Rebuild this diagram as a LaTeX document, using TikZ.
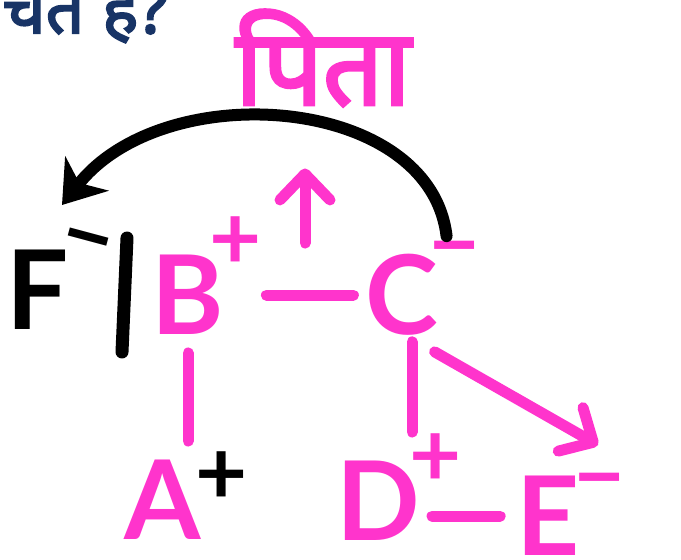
\documentclass[tikz,border=0pt]{standalone}
\usepackage{fontspec}
\setmainfont{Lato}
\newfontfamily\devfont[Script=Devanagari,AutoFakeBold=3]{Noto Sans}
\usetikzlibrary{arrows.meta}
\definecolor{pinkpen}{RGB}{255,52,204}
\definecolor{navy}{RGB}{24,52,102}

\begin{document}
\begin{tikzpicture}[x=1pt,y=-1pt,>={Stealth[length=40pt,width=55pt,inset=12pt]},
  atom/.style={inner sep=0pt,text=pinkpen,font=\fontsize{110}{110}\selectfont\bfseries},
  chg/.style={inner sep=0pt,text=pinkpen,font=\fontsize{90}{90}\selectfont\bfseries},
  bond/.style={draw=pinkpen,line width=11pt,line cap=round},
  pinkarrow/.style={bond,-{Straight Barb[length=26pt,width=50pt,round]}},
  blackarrow/.style={draw=black,line width=12pt,line cap=round,->}]
  \useasboundingbox (0,0) rectangle (681,560);
  % cut-off question at the top
  \begin{scope}
    \clip (0,0) rectangle (681,560);
    \node[font={\devfont\fontsize{68}{68}\selectfont\bfseries},text=navy,inner sep=0pt,anchor=base east] (head) at (168,33) {उचित है?};
  \end{scope}
  \node[font={\devfont\fontsize{106}{106}\selectfont\bfseries},text=pinkpen,inner sep=0pt] (pita) at (323,58) {पिता};
  % ions
  \node[atom,text=black] (F) at (38,290) {F};
  \node[chg,text=black,rotate=-15] (fq) at (85,250) {−};
  \node[atom] (B) at (188,295) {B};
  \node[chg] (bq) at (236,243) {+};
  \node[atom] (C) at (402,295) {C};
  \node[chg] (cq) at (455,258) {−};
  \node[atom] (A) at (163,500) {A};
  \node[chg,text=black] (aq) at (222,478) {+};
  \node[atom] (D) at (378,501) {D};
  \node[chg] (dq) at (436,460) {+};
  \node[atom] (E) at (548,516) {E};
  \node[chg] (eq) at (600,490) {−};
  \coordinate (bcmid) at (305,243);
  \coordinate (etip) at (598,445);
  \coordinate (ftip) at (62,205);
  % bar beside F
  \draw[line width=13pt,line cap=round] (127,238) -- (122,352);
  % bonds
  \draw[bond,shorten <=42pt,shorten >=12pt] (B) -- (C);
  \draw[bond,shorten <=18pt,shorten >=19pt] (B.south) -- (B.south |- A.north);
  \draw[bond,shorten <=6pt,shorten >=29pt] ([xshift=10pt]C.south) -- ([xshift=10pt]C.south |- D.north);
  \draw[bond,shorten <=12pt,shorten >=16pt] ([yshift=-15pt]D.east) -- (E.west);
  % arrows
  \draw[pinkarrow,shorten >=62pt] (bcmid) -- (bcmid |- pita.south);
  \draw[pinkarrow] ([shift={(-4pt,-16pt)}]C.south east) -- (etip);
  \draw[blackarrow] ([xshift=8pt,yshift=18pt]C.north east) .. controls (430,95) and (165,75) .. (ftip);
\end{tikzpicture}
\end{document}
